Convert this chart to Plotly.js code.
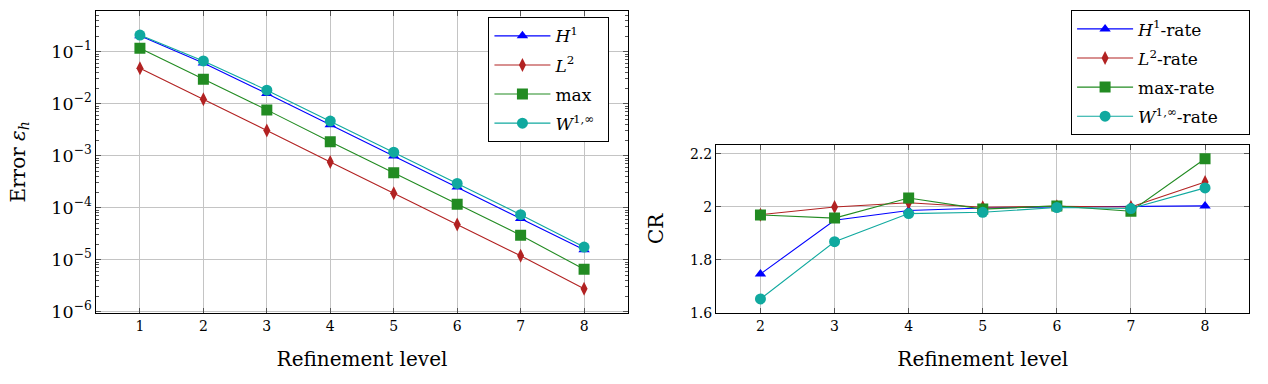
<!DOCTYPE html>
<html>
<head>
<meta charset="utf-8">
<script src="https://cdn.plot.ly/plotly-3.0.1.min.js"></script>
<style>
  html, body { margin:0; padding:0; background:#fff; }
  #chart { width:1268px; height:384px; }
</style>
</head>
<body>
<div id="chart"></div>
<script>
// refinement levels and errors
const levels = [1, 2, 3, 4, 5, 6, 7, 8];
const errH1  = [0.203, 0.0605, 0.0157, 3.95e-3, 9.9e-4, 2.49e-4, 6.22e-5, 1.55e-5];
const errL2  = [0.0479, 0.0122, 3.06e-3, 7.57e-4, 1.90e-4, 4.73e-5, 1.19e-5, 2.77e-6];
const errMax = [0.116, 0.0296, 7.6e-3, 1.86e-3, 4.69e-4, 1.17e-4, 2.96e-5, 6.53e-6];
const errW   = [0.209, 0.0665, 0.0182, 4.62e-3, 1.17e-3, 2.93e-4, 7.35e-5, 1.75e-5];

// convergence rates (right panel)
const rateLevels = [2, 3, 4, 5, 6, 7, 8];
const rateH1  = [1.747, 1.950, 1.987, 1.996, 2.000, 2.002, 2.004];
const rateL2  = [1.971, 2.000, 2.016, 1.999, 2.003, 2.000, 2.094];
const rateMax = [1.970, 1.958, 2.034, 1.992, 2.004, 1.984, 2.182];
const rateW   = [1.653, 1.869, 1.975, 1.980, 1.998, 1.994, 2.072];

const FONT = 'DejaVu Serif, Liberation Serif, serif';
const colors = { h1:'#0000ff', l2:'#b22222', max:'#228b22', w:'#10a99f' };
// trailing spaces widen the legend boxes (zero-width char keeps them from being trimmed)
const PAD_L = '\u2002\u200b';
const PAD_R = '\u2003\u2002\u200b';

function series(x, y, name, color, symbol, size, xa, ya, legend){
  return {
    type:'scatter', mode:'lines+markers',
    x, y, name,
    xaxis:xa, yaxis:ya, legend, legendgroup:legend + name,
    line:{color, width:1.1},
    marker:{symbol, size, color}
  };
}

const traces = [
  series(levels, errH1,  '<i>H</i><sup>1</sup>', colors.h1, 'triangle-up', 10, 'x', 'y', 'legend'),
  series(levels, errL2,  '<i>L</i><sup>2</sup>', colors.l2, 'diamond-tall', 10, 'x', 'y', 'legend'),
  series(levels, errMax, 'max', colors.max, 'square', 11, 'x', 'y', 'legend'),
  series(levels, errW,   '<i>W</i><sup>1,∞</sup>' + PAD_L, colors.w, 'circle', 11, 'x', 'y', 'legend'),
  series(rateLevels, rateH1,  '<i>H</i><sup>1</sup>-rate', colors.h1, 'triangle-up', 10, 'x2', 'y2', 'legend2'),
  series(rateLevels, rateL2,  '<i>L</i><sup>2</sup>-rate', colors.l2, 'diamond-tall', 10, 'x2', 'y2', 'legend2'),
  series(rateLevels, rateMax, 'max-rate', colors.max, 'square', 11, 'x2', 'y2', 'legend2'),
  series(rateLevels, rateW,   '<i>W</i><sup>1,∞</sup>-rate' + PAD_R, colors.w, 'circle', 11, 'x2', 'y2', 'legend2')
];

const axisBase = {
  showline:true, linecolor:'#000', linewidth:1, mirror:'allticks',
  ticks:'inside', ticklen:5, tickcolor:'#555', tickwidth:1,
  showgrid:true, gridcolor:'#c4c4c4', gridwidth:1,
  zeroline:false,
  tickfont:{family:FONT, size:14, color:'#000'},
  automargin:false
};
const titleFont = {family:FONT, size:20, color:'#000'};

const legendBase = {
  xanchor:'left', yanchor:'top',
  bordercolor:'#000', borderwidth:1, bgcolor:'#fff',
  font:{family:FONT, size:17}, itemwidth:56, tracegroupgap:4
};

const layout = {
  width:1268, height:384,
  margin:{l:0, r:0, t:0, b:0},
  paper_bgcolor:'#fff', plot_bgcolor:'#fff',
  font:{family:FONT, color:'#000'},
  xaxis:Object.assign({}, axisBase, {
    domain:[0.07532, 0.49566], range:[0.3, 8.7], dtick:1, tick0:1,
    title:{text:'Refinement level', font:titleFont, standoff:19}, anchor:'y'
  }),
  yaxis:Object.assign({}, axisBase, {
    domain:[0.1849, 0.97214], type:'log', range:[-6.025, -0.212], dtick:1,
    exponentformat:'power',
    minor:{ticks:'inside', ticklen:3, tickcolor:'#555', dtick:'D1', showgrid:false},
    title:{text:'Error <i>ε<sub>h</sub></i>', font:titleFont, standoff:20}, anchor:'x'
  }),
  xaxis2:Object.assign({}, axisBase, {
    domain:[0.56467, 0.98541], range:[1.4, 8.6], dtick:1, tick0:2,
    title:{text:'Refinement level', font:titleFont, standoff:19}, anchor:'y2'
  }),
  yaxis2:Object.assign({}, axisBase, {
    domain:[0.1849, 0.62318], range:[1.6, 2.235], tickvals:[1.6, 1.8, 2, 2.2],
    ticktext:['1.6', '1.8', '2', '2.2'],
    title:{text:'CR', font:titleFont, standoff:20}, anchor:'x2'
  }),
  legend:Object.assign({}, legendBase, {x:0.3852, y:0.955}),
  legend2:Object.assign({}, legendBase, {x:0.8447, y:0.973})
};

Plotly.newPlot('chart', traces, layout, {displayModeBar:false, staticPlot:true});
</script>
</body>
</html>
